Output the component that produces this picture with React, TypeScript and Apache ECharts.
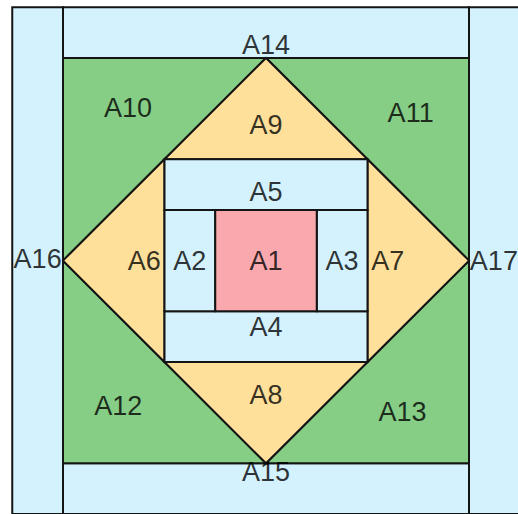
import React, { useEffect, useRef } from "react";
import * as echarts from "echarts";

// Patch names, in drawing order (outer strips first, centre last)
const patchNames = [
  "A16", "A17", "A14", "A15",
  "A10", "A11", "A12", "A13",
  "A9", "A8", "A6", "A7",
  "A5", "A4", "A2", "A3", "A1",
];

// Patch outlines in block units (centre of block = 0,0, y up)
const patchPolygons: number[][][] = [
  [[-5, -5], [-4, -5], [-4, 5], [-5, 5]],
  [[4, -5], [5, -5], [5, 5], [4, 5]],
  [[-4, 4], [4, 4], [4, 5], [-4, 5]],
  [[-4, -5], [4, -5], [4, -4], [-4, -4]],
  [[-4, 0], [-4, 4], [0, 4]],
  [[0, 4], [4, 4], [4, 0]],
  [[-4, 0], [-4, -4], [0, -4]],
  [[4, 0], [4, -4], [0, -4]],
  [[-2, 2], [2, 2], [0, 4]],
  [[-2, -2], [2, -2], [0, -4]],
  [[-2, 2], [-2, -2], [-4, 0]],
  [[2, 2], [2, -2], [4, 0]],
  [[-2, 1], [2, 1], [2, 2], [-2, 2]],
  [[-2, -2], [2, -2], [2, -1], [-2, -1]],
  [[-2, -1], [-1, -1], [-1, 1], [-2, 1]],
  [[1, -1], [2, -1], [2, 1], [1, 1]],
  [[-1, -1], [1, -1], [1, 1], [-1, 1]],
];

const patchFabric = [
  "blue", "blue", "blue", "blue",
  "green", "green", "green", "green",
  "yellow", "yellow", "yellow", "yellow",
  "blue", "blue", "blue", "blue", "pink",
];

const fabricColors: Record<string, string> = {
  blue: "#d4f2fd",
  green: "#86cd86",
  yellow: "#ffe09b",
  pink: "#f9a9ae",
};

// Label anchor positions (block units)
const labelNames = [
  "A1", "A2", "A3", "A4", "A5", "A6", "A7", "A8", "A9",
  "A10", "A11", "A12", "A13", "A14", "A15", "A16", "A17",
];
const labelX = [0, -1.5, 1.5, 0, 0, -2.4, 2.4, 0, 0, -2.72, 2.85, -2.91, 2.69, 0, 0, -4.5, 4.49];
const labelY = [0, 0, 0, -1.3, 1.36, 0, 0, -2.65, 2.67, 3.02, 2.91, -2.87, -2.98, 4.25, -4.17, 0.03, 0];

// Visible window of the block (the right edge is cut off by the picture)
const viewX = [-5, 4.9655];
const viewY = [-5, 5];

export default function App() {
  const ref = useRef<HTMLDivElement>(null);

  useEffect(() => {
    if (!ref.current) return;
    const chart = echarts.init(ref.current, undefined, { renderer: "svg" });
    chart.setOption({
      animation: false,
      backgroundColor: "#ffffff",
      grid: { left: 12.25, top: 7.25, right: 0, bottom: 0 },
      xAxis: { type: "value", min: viewX[0], max: viewX[1], show: false },
      yAxis: { type: "value", min: viewY[0], max: viewY[1], show: false },
      series: [
        {
          type: "custom",
          silent: true,
          clip: false,
          data: patchNames.map((n, i) => ({ name: n, value: [i] })),
          renderItem: (params: any, api: any) => {
            const i = params.dataIndex;
            const pts = patchPolygons[i].map((p) => api.coord(p));
            return {
              type: "polygon",
              shape: { points: pts },
              style: {
                fill: fabricColors[patchFabric[i]],
                stroke: "#141414",
                lineWidth: 2,
                lineJoin: "miter",
              },
            };
          },
          z: 1,
        },
        {
          type: "scatter",
          silent: true,
          symbolSize: 0,
          data: labelNames.map((n, i) => ({ name: n, value: [labelX[i], labelY[i]] })),
          label: {
            show: true,
            position: "inside",
            formatter: "{b}",
            fontSize: 27,
            fontFamily: "Liberation Sans, Arial, sans-serif",
            color: "#000000",
          },
          z: 5,
        },
      ],
    });
    return () => chart.dispose();
  }, []);

  return (
    <div
      ref={ref}
      style={{ position: "fixed", left: 0, top: 0, width: 518, height: 514 }}
    />
  );
}
